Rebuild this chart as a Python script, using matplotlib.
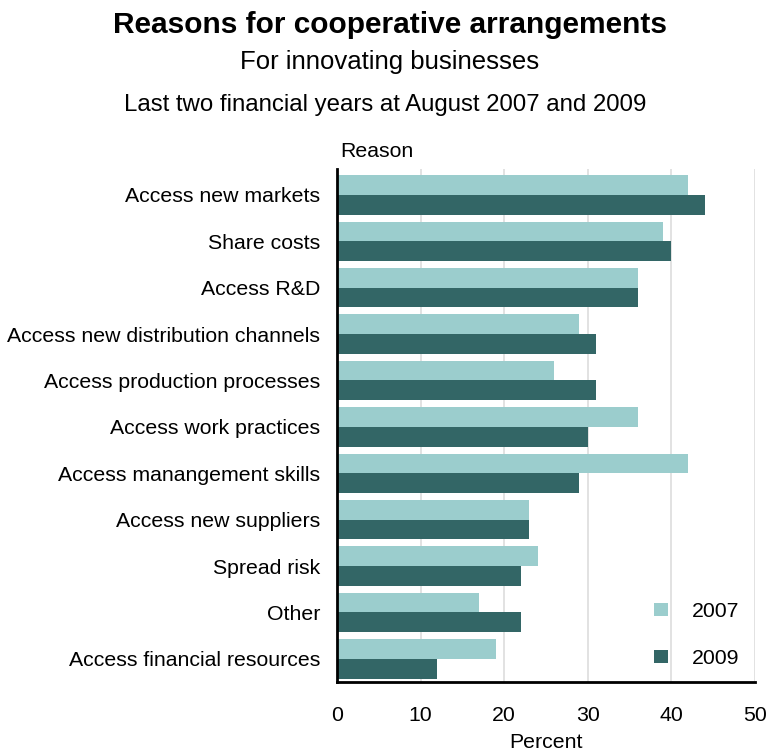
import matplotlib.pyplot as plt
import matplotlib.transforms as mtransforms
import numpy as np

plt.rcParams['font.family'] = ['Liberation Sans', 'DejaVu Sans']

# Data (percent of innovating businesses)
reasons = ['Access new markets', 'Share costs', 'Access R&D',
           'Access new distribution channels', 'Access production processes',
           'Access work practices', 'Access manangement skills',
           'Access new suppliers', 'Spread risk', 'Other',
           'Access financial resources']
pct_2007 = [42, 39, 36, 29, 26, 36, 42, 23, 24, 17, 19]
pct_2009 = [44, 40, 36, 31, 31, 30, 29, 23, 22, 22, 12]
years = ['2007', '2009']
colors = ['#9bcdcd', '#336666']

fig = plt.figure(figsize=(7.67, 7.53), dpi=100)
ax = fig.add_axes([0.4394, 0.0943, 0.545, 0.6813])

y = np.arange(len(reasons))
h = 0.425
ax.barh(y - h / 2, pct_2007, height=h, color=colors[0], label=years[0], zorder=2)
ax.barh(y + h / 2, pct_2009, height=h, color=colors[1], label=years[1], zorder=2)

ax.set_ylim(len(reasons) - 0.5, -0.56)
ax.set_yticks(y)
ax.set_yticklabels(reasons, fontsize=15.3)
# nudge the category labels up a few pixels
shift = mtransforms.ScaledTranslation(0, 3 / 100, fig.dpi_scale_trans)
for lab in ax.get_yticklabels():
    lab.set_transform(lab.get_transform() + shift)
ax.set_xlim(0, 50)
ax.set_xticks(np.arange(0, 51, 10))
ax.tick_params(axis='x', length=0, pad=17, labelsize=15.3)
ax.tick_params(axis='y', length=0, pad=12)
ax.set_xlabel('Percent', fontsize=15.3, labelpad=6)

ax.grid(axis='x', color='#dddddd', linewidth=1.2, zorder=0)
for s in ['top', 'right']:
    ax.spines[s].set_visible(False)
ax.spines['left'].set_linewidth(2)
ax.spines['bottom'].set_linewidth(2)

ax.legend(loc='lower right', bbox_to_anchor=(1.008, -0.01), frameon=False,
          fontsize=15.3, handlelength=0.7, handleheight=0.55,
          handletextpad=1.1, labelspacing=1.3)

fig.text(0.508, 0.967, 'Reasons for cooperative arrangements', ha='center',
         va='center', fontsize=21.5, fontweight='bold')
fig.text(0.508, 0.917, 'For innovating businesses', ha='center',
         va='center', fontsize=18.5)
fig.text(0.502, 0.861, 'Last two financial years at August 2007 and 2009',
         ha='center', va='center', fontsize=17.3)
fig.text(0.443, 0.799, 'Reason', ha='left', va='center', fontsize=15.3)

fig.savefig('out.png', dpi=100)
